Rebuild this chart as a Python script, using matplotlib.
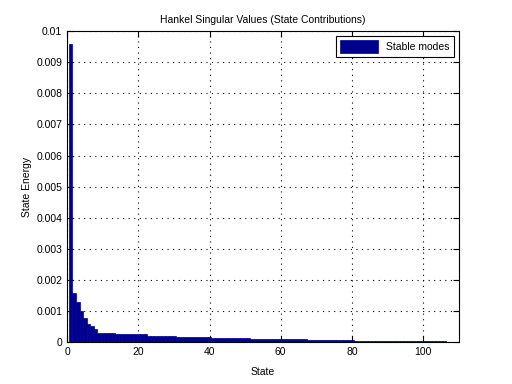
import matplotlib
matplotlib.use("Agg")
import matplotlib.pyplot as plt
from matplotlib.ticker import FuncFormatter

plt.rcParams['font.family'] = ['Liberation Sans', 'DejaVu Sans']

# Hankel singular values (states 1..106)
energy = [
    0.0096, 0.00159, 0.00130, 0.00100, 0.00078, 0.00059, 0.00051, 0.00041,
    0.00030, 0.00030,
    0.00028, 0.00028, 0.00028, 0.00027, 0.00027, 0.00027,
    0.00027, 0.00027, 0.00027, 0.00026, 0.00026, 0.00026,
    0.00020, 0.00020, 0.00020, 0.00020, 0.00020, 0.00020, 0.00020, 0.00020,
    0.00016, 0.00016, 0.00016, 0.00016, 0.00016,
    0.00016, 0.00016, 0.00016, 0.00016, 0.00016,
    0.00013, 0.00013, 0.00013, 0.00013, 0.00013, 0.00013,
    0.00013, 0.00013, 0.00013, 0.00013, 0.00013,
    0.00010, 0.00010, 0.00010, 0.00010, 0.00010, 0.00010, 0.00010, 0.00010,
    0.00010, 0.00010, 0.00010, 0.00010, 0.00010, 0.00010, 0.00010, 0.00010,
    0.00006, 0.00006, 0.00006, 0.00006, 0.00006, 0.00006, 0.00006,
    0.00006, 0.00006, 0.00006, 0.00006, 0.00006, 0.00006,
    0.00003, 0.00003, 0.00003, 0.00003, 0.00003, 0.00003, 0.00003,
    0.00003, 0.00003, 0.00003, 0.00003, 0.00003, 0.00003,
    0.00003, 0.00003, 0.00003, 0.00003, 0.00003, 0.00003, 0.00003,
    0.00003, 0.00003, 0.00003, 0.00003, 0.00003, 0.00003,
]
states = list(range(1, len(energy) + 1))
x_ticks = [0, 20, 40, 60, 80, 100]
y_ticks = [i * 0.001 for i in range(11)]

fig = plt.figure(figsize=(5.12, 3.84), dpi=100)
ax = fig.add_axes([0.131, 0.109, 0.765, 0.81])

blue = (0, 0, 0.5625)
ax.bar(states, energy, width=1.0, color=blue, edgecolor=blue, linewidth=0.5,
       label='Stable modes', zorder=3)

ax.set_xlim(0, 110)
ax.set_ylim(0, 0.01)
ax.set_xticks(x_ticks)
ax.set_yticks(y_ticks)
ax.yaxis.set_major_formatter(FuncFormatter(lambda v, p: '0' if v == 0 else ('%.3f' % v).rstrip('0')))

ax.grid(True, color='black', linestyle=(0, (1, 4)), linewidth=0.8)
ax.tick_params(direction='in', top=True, right=True, length=4, labelsize=7.5, width=0.8)
for s in ax.spines.values():
    s.set_linewidth(0.8)

ax.set_title('Hankel Singular Values (State Contributions)', fontsize=7.5)
ax.set_xlabel('State', fontsize=7.5, labelpad=7)
ax.set_ylabel('State Energy', fontsize=7.5, labelpad=3)

leg = ax.legend(loc='upper right', fontsize=7.5, fancybox=False, framealpha=1,
                edgecolor='black', handlelength=3.6, handleheight=1.4,
                borderaxespad=0.5)
leg.get_frame().set_linewidth(0.8)

plt.savefig('out.png', dpi=100)
